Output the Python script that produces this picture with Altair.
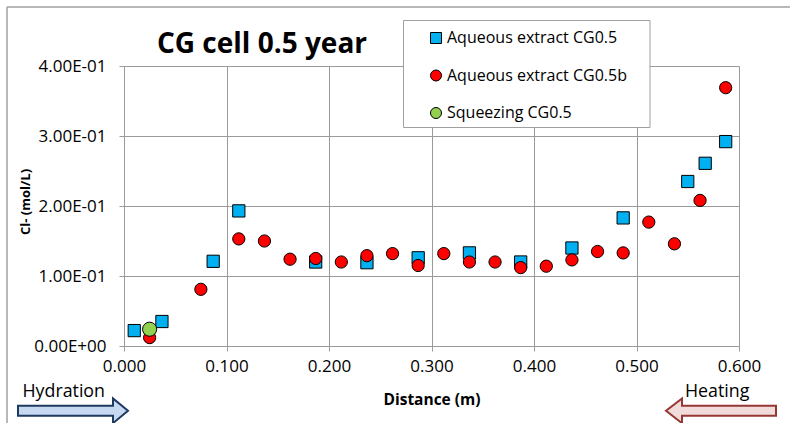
import altair as alt
import pandas as pd

# Chloride concentration profiles along the CG cell after 0.5 year
series_names = ["Aqueous extract CG0.5", "Aqueous extract CG0.5b", "Squeezing CG0.5"]
series_fill = ["#00b0f0", "#ff0000", "#92d050"]
series_edge = ["black", "black", "black"]
series_shape = ["square", "circle", "circle"]

sq_x = [0.010, 0.037, 0.087, 0.112, 0.187, 0.237, 0.287, 0.337, 0.387, 0.437, 0.487, 0.550, 0.567, 0.587]
sq_y = [0.022, 0.035, 0.121, 0.193, 0.120, 0.119, 0.126, 0.133, 0.120, 0.140, 0.183, 0.235, 0.261, 0.292]

ci_x = [0.025, 0.075, 0.112, 0.137, 0.162, 0.187, 0.212, 0.237, 0.262, 0.287, 0.312,
        0.337, 0.362, 0.387, 0.412, 0.437, 0.462, 0.487, 0.512, 0.537, 0.562, 0.587]
ci_y = [0.012, 0.081, 0.153, 0.150, 0.124, 0.125, 0.120, 0.129, 0.132, 0.115, 0.132,
        0.120, 0.120, 0.112, 0.114, 0.123, 0.135, 0.133, 0.177, 0.146, 0.208, 0.369]

sqz_x = [0.025]
sqz_y = [0.024]

x_ticks = [0.0, 0.1, 0.2, 0.3, 0.4, 0.5, 0.6]
y_ticks = [0.0, 0.1, 0.2, 0.3, 0.4]

FONT = "Open Sans"
GRID = "#9a9a9a"

df = pd.concat([
    pd.DataFrame({"x": sq_x, "y": sq_y, "series": series_names[0]}),
    pd.DataFrame({"x": ci_x, "y": ci_y, "series": series_names[1]}),
    pd.DataFrame({"x": sqz_x, "y": sqz_y, "series": series_names[2]}),
])

x_enc = alt.X(
    "x:Q",
    scale=alt.Scale(domain=[0, 0.6], nice=False, zero=False, padding=0),
    axis=alt.Axis(
        values=x_ticks, format=".3f", title="Distance (m)", labelFlush=False,
        titleY=53, titleBaseline="middle", titleFontSize=15.5, titleFontWeight="bold",
        labelPadding=7, tickSize=5,
    ),
)
y_enc = alt.Y(
    "y:Q",
    scale=alt.Scale(domain=[0, 0.4], nice=False, padding=0),
    axis=alt.Axis(
        values=y_ticks, labelFlush=False,
        labelExpr="datum.value == 0 ? '0.00E+00' : format(datum.value * 10, '.2f') + 'E-01'",
        title="Cl- (mol/L)", titleX=-99, titleY=135.5, titleAngle=270,
        titleAlign="center", titleBaseline="middle", titleFontSize=13, titleFontWeight="bold",
        labelPadding=13, tickSize=5,
    ),
)
legend_spec = alt.Legend(
    orient="none", legendX=304, legendY=-36, title=None, labelLimit=400,
    symbolStrokeWidth=1,
)
fill_enc = alt.Fill("series:N", scale=alt.Scale(domain=series_names, range=series_fill), legend=legend_spec)
stroke_enc = alt.Stroke("series:N", scale=alt.Scale(domain=series_names, range=series_edge), legend=legend_spec)
shape_enc = alt.Shape("series:N", scale=alt.Scale(domain=series_names, range=series_shape), legend=legend_spec)

base = alt.Chart(df)


def series_layer(name, size):
    return base.transform_filter(alt.datum.series == name).mark_point(
        filled=True, strokeWidth=1, opacity=1, fillOpacity=1, strokeOpacity=1, size=size
    ).encode(x=x_enc, y=y_enc, fill=fill_enc, stroke=stroke_enc, shape=shape_enc)


squares = series_layer(series_names[0], 150)
circles = series_layer(series_names[1], 150)
squeeze = series_layer(series_names[2], 200)

one = pd.DataFrame({"k": [0]})

# legend frame (white, covers grid)
legend_box = alt.Chart(one).mark_rect(
    fill="white", stroke="#a0a0a0", strokeWidth=1
).encode(x=alt.value(279.5), x2=alt.value(526), y=alt.value(-45.5), y2=alt.value(61.5))

# outer chart frame (top and left edges)
frame_top = alt.Chart(one).mark_rule(color="#a0a0a0", strokeWidth=1.5).encode(
    x=alt.value(-117), x2=alt.value(666), y=alt.value(-59))
frame_left = alt.Chart(one).mark_rule(color="#a0a0a0", strokeWidth=1.5).encode(
    x=alt.value(-117), y=alt.value(-59), y2=alt.value(357))

title = alt.Chart(pd.DataFrame({"t": ["CG cell 0.5 year"]})).mark_text(
    font=FONT, fontSize=28, fontWeight="bold", color="black", align="center", baseline="alphabetic"
).encode(text="t:N", x=alt.value(138), y=alt.value(-13.5))

notes = alt.Chart(pd.DataFrame({"t": ["Hydration", "Heating"], "px": [-101.5, 561], "py": [330.5, 330.5]})).mark_text(
    font=FONT, fontSize=17.8, color="black", align="left", baseline="alphabetic"
).encode(text="t:N", x=alt.X("px:Q", scale=None), y=alt.Y("py:Q", scale=None))

right_arrow = "M -1 -0.09 L 0.727 -0.09 L 0.727 -0.225 L 1 0 L 0.727 0.225 L 0.727 0.09 L -1 0.09 Z"
left_arrow = "M 1 -0.09 L -0.709 -0.09 L -0.709 -0.225 L -1 0 L -0.709 0.225 L -0.709 0.09 L 1 0.09 Z"

hydration_arrow = alt.Chart(one).mark_point(
    shape=right_arrow, size=12100, filled=True, fill="#c6d9f1", stroke="#1f3a60",
    strokeWidth=2, opacity=1, fillOpacity=1
).encode(x=alt.value(-51), y=alt.value(344.8))

heating_arrow = alt.Chart(one).mark_point(
    shape=left_arrow, size=12100, filled=True, fill="#f2dcdb", stroke="#953735",
    strokeWidth=2, opacity=1, fillOpacity=1
).encode(x=alt.value(597), y=alt.value(344.8))

chart = alt.layer(
    legend_box, squares, circles, squeeze, title, notes, hydration_arrow, heating_arrow,
    frame_top, frame_left,
).resolve_scale(fill="shared", shape="shared", stroke="shared").properties(
    width=615, height=280, autosize="none",
    padding={"left": 124, "top": 66, "right": 51, "bottom": 77},
).configure_view(stroke=None).configure_axis(
    grid=True, gridColor=GRID, gridWidth=1, domainColor=GRID, tickColor=GRID,
    labelFont=FONT, titleFont=FONT, labelFontSize=17, labelColor="black", titleColor="black",
).configure_legend(
    labelFont=FONT, labelFontSize=16, labelColor="black", symbolSize=121,
    symbolStrokeWidth=1, rowPadding=21.5, labelOffset=3,
    padding=0,
)

chart.save("out.html", embed_options={"renderer": "svg", "actions": False})
